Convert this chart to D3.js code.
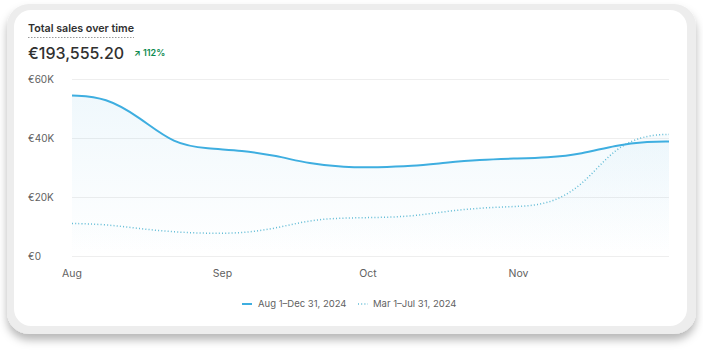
<!DOCTYPE html>
<html><head><meta charset="utf-8">
<script src="https://cdn.jsdelivr.net/npm/d3@7"></script>
<style>
html,body{margin:0;padding:0;background:#fff;}
svg{display:block;font-family:Inter,"Noto Sans",sans-serif;}
</style></head>
<body><svg id="c" width="703" height="352"></svg>
<script>
// ---- data ----
const dates = ["2024-08-01","2024-08-08","2024-08-15","2024-08-22","2024-08-29","2024-09-05","2024-09-12","2024-09-19","2024-09-26","2024-10-03","2024-10-10","2024-10-17","2024-10-24","2024-10-31","2024-11-07","2024-11-14","2024-11-21","2024-11-28","2024-12-02"];
const currentSales = [54600,54000,47100,38000,36500,36000,34200,31400,30200,30200,30600,31800,32800,33200,33500,34700,37800,39000,39000];
const previousSales = [11200,10900,9400,8300,7800,7900,9500,12400,13100,13200,13600,15300,16500,16900,17500,23500,37500,41300,41400];
const yTicks = [0,20000,40000,60000];
const yTickLabels = ["€0","€20K","€40K","€60K"];
const xTickDates = ["2024-08-01","2024-09-01","2024-10-01","2024-11-01"];
const xTickLabels = ["Aug","Sep","Oct","Nov"];
const legendLabels = ["Aug 1–Dec 31, 2024","Mar 1–Jul 31, 2024"];
const title = "Total sales over time";
const totalText = "€193,555.20";
const changeText = "112%";

const parse = d3.timeParse("%Y-%m-%d");
const svg = d3.select("#c");
const defs = svg.append("defs");

// card frame
const f = defs.append("filter").attr("id","sh").attr("x","-10%").attr("y","-10%").attr("width","120%").attr("height","130%");
f.append("feDropShadow").attr("dx",0).attr("dy",6).attr("stdDeviation",4).attr("flood-color","#000").attr("flood-opacity",0.28);
svg.append("rect").attr("x",7).attr("y",4).attr("width",689).attr("height",330).attr("rx",22)
  .attr("fill","#ededed").attr("filter","url(#sh)");
svg.append("rect").attr("x",14).attr("y",10).attr("width",673).attr("height",316).attr("rx",17).attr("fill","#fff");

const x = d3.scaleTime().domain([parse("2024-08-01"), parse("2024-12-02")]).range([72, 669]);
const y = d3.scaleLinear().domain([0,60000]).range([256.5,79.5]);

// gradient
const g = defs.append("linearGradient").attr("id","ag").attr("x1",0).attr("y1",0).attr("x2",0).attr("y2",1);
g.append("stop").attr("offset","0%").attr("stop-color","#3fa9dd").attr("stop-opacity",0.08);
g.append("stop").attr("offset","100%").attr("stop-color","#3fa9dd").attr("stop-opacity",0.0);

// grid
svg.append("g").selectAll("line").data(yTicks).join("line")
  .attr("x1",72).attr("x2",669).attr("y1",d=>y(d)).attr("y2",d=>y(d))
  .attr("stroke","#eeeeee").attr("stroke-width",1);

// y labels
svg.append("g").selectAll("text").data(yTicks).join("text")
  .attr("x",28).attr("y",d=>y(d)).attr("dy","0.35em")
  .attr("font-size",10).attr("fill","#616161").text((d,i)=>yTickLabels[i]);

// x labels
svg.append("g").selectAll("text").data(xTickDates).join("text")
  .attr("x",d=>x(parse(d))).attr("y",273).attr("dy","0.35em").attr("text-anchor","middle")
  .attr("font-size",10.5).attr("fill","#616161").text((d,i)=>xTickLabels[i]);

const cur = dates.map((d,i)=>({t:parse(d),v:currentSales[i]}));
const prev = dates.map((d,i)=>({t:parse(d),v:previousSales[i]}));
const curve = d3.curveBasis;

svg.append("path").datum(cur)
  .attr("d", d3.area().x(d=>x(d.t)).y0(y(0)).y1(d=>y(d.v)).curve(curve))
  .attr("fill","url(#ag)");
svg.append("path").datum(prev)
  .attr("d", d3.area().x(d=>x(d.t)).y0(y(0)).y1(d=>y(d.v)).curve(curve))
  .attr("fill","url(#ag)").attr("opacity",0.5);

svg.append("path").datum(prev)
  .attr("d", d3.line().x(d=>x(d.t)).y(d=>y(d.v)).curve(curve))
  .attr("fill","none").attr("stroke","#62bcd6").attr("stroke-width",1.5)
  .attr("stroke-dasharray","1 2.2").attr("stroke-linecap","butt");
svg.append("path").datum(cur)
  .attr("d", d3.line().x(d=>x(d.t)).y(d=>y(d.v)).curve(curve))
  .attr("fill","none").attr("stroke","#3eaee0").attr("stroke-width",2);

// header
svg.append("text").attr("x",28).attr("y",32).attr("font-size",11).attr("font-weight",600)
  .attr("fill","#303030").attr("textLength",106).attr("lengthAdjust","spacingAndGlyphs").text(title);
svg.append("line").attr("x1",28).attr("x2",134).attr("y1",37.5).attr("y2",37.5)
  .attr("stroke","#9a9a9a").attr("stroke-width",1).attr("stroke-dasharray","1.5 1.5");
svg.append("text").attr("x",28).attr("y",59).attr("font-size",16).attr("font-weight",500)
  .attr("fill","#303030").text(totalText);
svg.append("text").attr("x",134).attr("y",56).attr("font-size",8.5).attr("font-weight",700)
  .attr("fill","#0c8a4f").text("↗");
svg.append("text").attr("x",143).attr("y",56).attr("font-size",9).attr("font-weight",600)
  .attr("fill","#0c8a4f").text(changeText);

// legend
const lg = svg.append("g");
lg.append("line").attr("x1",242).attr("x2",252).attr("y1",304).attr("y2",304)
  .attr("stroke","#3eaee0").attr("stroke-width",2);
lg.append("text").attr("x",258).attr("y",304).attr("dy","0.35em").attr("font-size",9.5)
  .attr("fill","#616161").text(legendLabels[0]);
lg.append("line").attr("x1",358).attr("x2",368).attr("y1",304).attr("y2",304)
  .attr("stroke","#62bcd6").attr("stroke-width",1.5).attr("stroke-dasharray","1 2.2");
lg.append("text").attr("x",373).attr("y",304).attr("dy","0.35em").attr("font-size",9.5)
  .attr("fill","#616161").text(legendLabels[1]);
</script></body></html>
